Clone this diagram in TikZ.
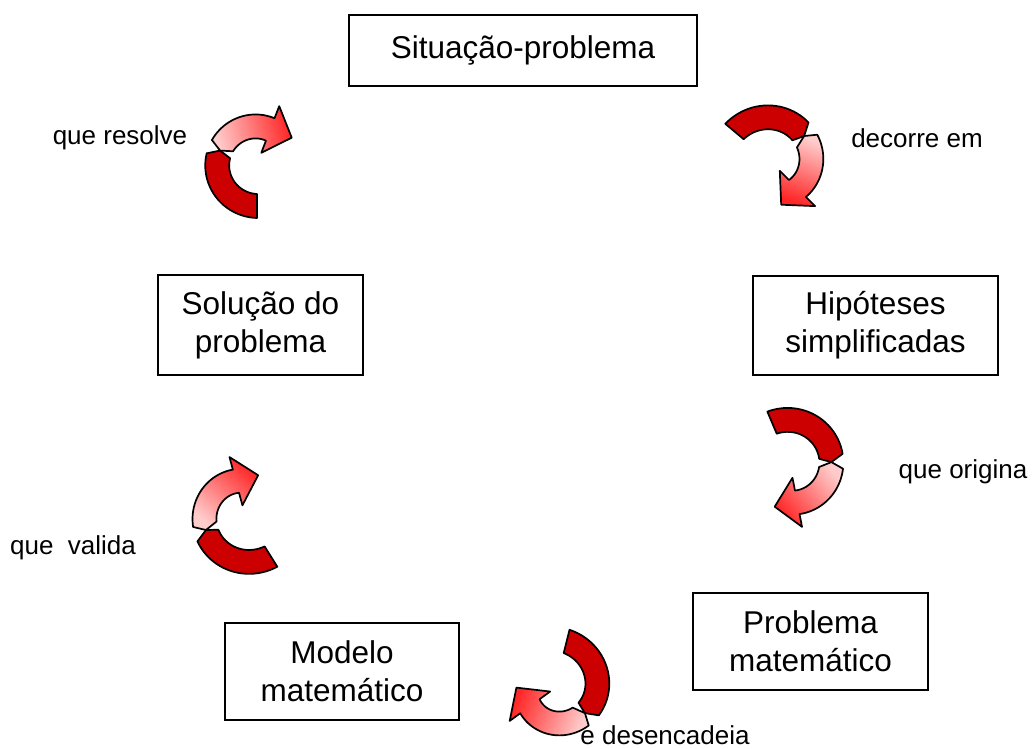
\documentclass[tikz,border=0pt]{standalone}
\usepackage{fontspec}
\setmainfont{Liberation Sans}
\definecolor{vermelhoesc}{RGB}{204,0,0}
\tikzset{
  caixa/.style={draw=black, line width=1.3pt, align=center, inner sep=0pt,
    font=\fontsize{31.5}{38}\selectfont},
  rotulo/.style={inner sep=0pt, font=\fontsize{26}{30}\selectfont},
  fitaescura/.style={fill=vermelhoesc, draw=black, line width=1.7pt, line join=round},
  fitaclara/.style={draw=black, line width=1.7pt, line join=round,
    top color=red!20, bottom color=red!85},
}
% seta em fita: centro (#1,#2), raio #3 -> #4, angulos #5 (inicio), #6 (torcao), #7 (ponta), degrade #8
\newcommand{\fita}[8]{%
  \begin{scope}[declare function={rr(\t)=#3+(#4-#3)*(\t-#5)/(#7-#5);}]
  \pgfmathsetmacro{\ta}{#6-8}
  \pgfmathsetmacro{\tb}{#6+8}
  \path[fitaescura] plot[domain=#5:\ta, samples=25] ({#1+(rr(\x)+12)*cos(\x)},{#2+(rr(\x)+12)*sin(\x)})
    -- ({#1+rr(#6)*cos(#6)},{#2+rr(#6)*sin(#6)})
    -- plot[domain=\ta:#5, samples=25] ({#1+(rr(\x)-12)*cos(\x)},{#2+(rr(\x)-12)*sin(\x)}) -- cycle;
  \path[fitaclara, shading angle=#8] ({#1+rr(#6)*cos(#6)},{#2+rr(#6)*sin(#6)})
    -- plot[domain=\tb:#7, samples=25] ({#1+(rr(\x)+12)*cos(\x)},{#2+(rr(\x)+12)*sin(\x)})
    -- ({#1+(#4+25)*cos(#7)},{#2+(#4+25)*sin(#7)})
    -- ({#1+#4*cos(#7)-23*sin(#7)},{#2+#4*sin(#7)+23*cos(#7)})
    -- ({#1+(#4-25)*cos(#7)},{#2+(#4-25)*sin(#7)})
    -- plot[domain=#7:\tb, samples=25] ({#1+(rr(\x)-12)*cos(\x)},{#2+(rr(\x)-12)*sin(\x)}) -- cycle;
  \end{scope}}

\begin{document}
\begin{tikzpicture}[x=1pt, y=-1pt]
\useasboundingbox (0,0) rectangle (1033,749);

% caixas
\node (sit) at (523,50.5) [caixa, minimum width=348pt, minimum height=71pt] {Situação-problema};
\node (hip) at (875.5,325.5) [caixa, minimum width=245pt, minimum height=99pt] {Hipóteses\\simplificadas};
\node (prob) at (810.5,641.5) [caixa, minimum width=235pt, minimum height=97pt] {Problema\\matemático};
\node (mod) at (342,671.5) [caixa, minimum width=234pt, minimum height=97pt] {Modelo\\matemático};
\node (sol) at (260.5,325) [caixa, minimum width=205pt, minimum height=100pt] {Solução do\\problema};

% rotulos
\node (ldecorre) at (917,138) [rotulo] {decorre em};
\node (lorigina) at (963,472) [rotulo] {que origina};
\node (ldesenc) at (665,735) [rotulo] {e desencadeia};
\node (lvalida) at (73,548) [rotulo] {que\ \ valida};
\node (lresolve) at (120,138) [rotulo] {que resolve};

% setas
\fita{772}{163}{49}{36}{220}{320}{405}{-21}
\fita{790}{465}{46}{38}{247}{356}{439}{-52}
\fita{555}{688}{48}{31}{284}{400}{504}{-110}
\fita{245}{515}{49}{35}{58}{159}{255}{139}
\fita{257}{164}{42}{37}{90}{200}{291}{104}
\end{tikzpicture}
\end{document}
